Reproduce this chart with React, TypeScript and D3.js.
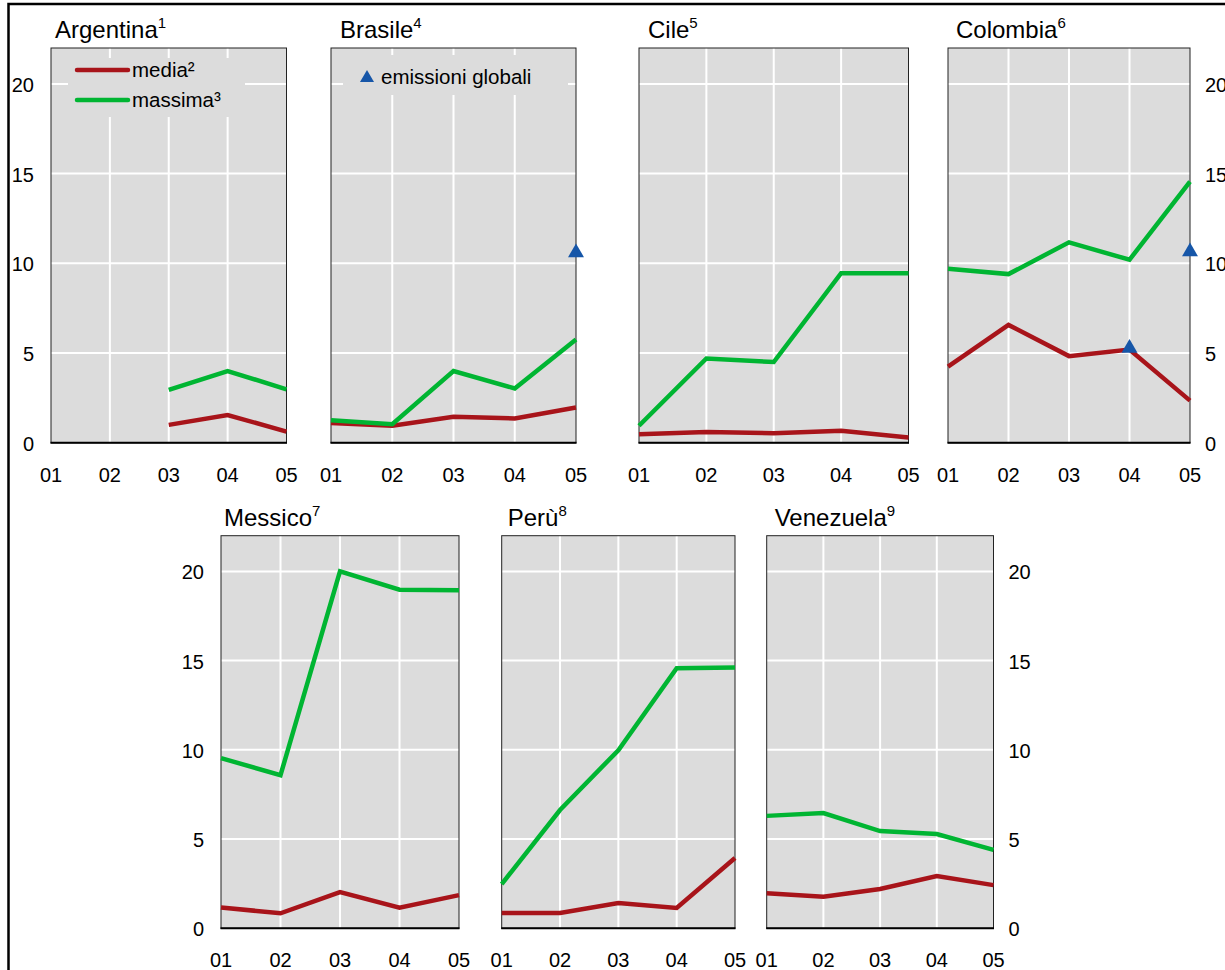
import * as d3 from "d3";

// data (per cent)
const years = ["01", "02", "03", "04", "05"];
const countries = ["Argentina", "Brasile", "Cile", "Colombia", "Messico", "Perù", "Venezuela"];
const notes = ["1", "4", "5", "6", "7", "8", "9"];
const media = [
  [null, null, 1.0, 1.55, 0.62],
  [1.1, 0.95, 1.45, 1.36, 1.97],
  [0.47, 0.6, 0.53, 0.67, 0.3],
  [4.25, 6.57, 4.83, 5.2, 2.35],
  [1.17, 0.84, 2.03, 1.15, 1.86],
  [0.86, 0.86, 1.42, 1.14, 3.94],
  [1.96, 1.77, 2.2, 2.93, 2.42],
];
const massima = [
  [null, null, 2.95, 4.0, 2.98],
  [1.26, 1.04, 4.0, 3.03, 5.76],
  [0.95, 4.7, 4.5, 9.45, 9.45],
  [9.7, 9.4, 11.17, 10.2, 14.55],
  [9.54, 8.58, 20.0, 18.97, 18.95],
  [2.48, 6.63, 9.98, 14.57, 14.62],
  [6.3, 6.46, 5.45, 5.28, 4.39],
];
const globali = [
  [null, null, null, null, null],
  [null, null, null, null, 10.6],
  [null, null, null, null, null],
  [null, null, null, 5.27, 10.65],
  [null, null, null, null, null],
  [null, null, null, null, null],
  [null, null, null, null, null],
];
const yTicks = [0, 5, 10, 15, 20];

// panel layout
const rows = [
  { top: 48, bottom: 442.8 },
  { top: 535.7, bottom: 928.3 },
];
const panels = [
  { x0: 51, x1: 286.5, row: 0, tdx: 4, axis: "left" },
  { x0: 331, x1: 576, row: 0, tdx: 9, axis: null },
  { x0: 639, x1: 908.5, row: 0, tdx: 9, axis: null },
  { x0: 948, x1: 1190, row: 0, tdx: 8, axis: "right" },
  { x0: 221, x1: 459, row: 1, tdx: 3, axis: "left" },
  { x0: 501.7, x1: 735, row: 1, tdx: 6, axis: null },
  { x0: 766.7, x1: 993.5, row: 1, tdx: 8, axis: "right" },
];

const FONT = "'Liberation Sans', Arial, sans-serif";
const BG = "#dcdcdc";
const GREEN = "#00b532";
const RED = "#a8141a";
const BLUE = "#1656a8";

function Panel({ i }: { i: number }) {
  const p = panels[i];
  const r = rows[p.row];
  const x = d3.scalePoint<string>().domain(years).range([p.x0, p.x1]);
  const y = d3.scaleLinear().domain([0, 22]).range([r.bottom, r.top]);
  const line = d3
    .line<number | null>()
    .defined((d) => d != null)
    .x((_, j) => x(years[j])!)
    .y((d) => y(d as number));
  const tri = d3.symbol(d3.symbolTriangle, 110)()!;

  return (
    <g>
      <rect x={p.x0} y={r.top} width={p.x1 - p.x0} height={r.bottom - r.top} fill={BG} />
      {yTicks.slice(1).map((t) => (
        <line key={"h" + t} x1={p.x0} x2={p.x1} y1={y(t)} y2={y(t)} stroke="#fff" strokeWidth={2} />
      ))}
      {years.slice(1, -1).map((yr) => (
        <line key={"v" + yr} x1={x(yr)} x2={x(yr)} y1={r.top} y2={r.bottom} stroke="#fff" strokeWidth={2} />
      ))}
      {i === 0 && (
        <g>
          <rect x={68} y={58} width={177} height={59} fill={BG} />
          <line x1={77} x2={128} y1={70} y2={70} stroke={RED} strokeWidth={4.5} strokeLinecap="round" />
          <line x1={77} x2={128} y1={100} y2={100} stroke={GREEN} strokeWidth={4.5} strokeLinecap="round" />
          <text x={132} y={77} fontSize={20.5}>media²</text>
          <text x={132} y={107} fontSize={20.5}>massima³</text>
        </g>
      )}
      {i === 1 && (
        <g>
          <rect x={343} y={55} width={225} height={40} fill={BG} />
          <path d={d3.symbol(d3.symbolTriangle, 85)()!} transform="translate(367,78)" fill={BLUE} />
          <text x={381} y={84} fontSize={20.5}>emissioni globali</text>
        </g>
      )}
      <rect x={p.x0} y={r.top} width={p.x1 - p.x0} height={r.bottom - r.top} fill="none" stroke="#222" strokeWidth={1} />
      <line x1={p.x0 - 0.5} x2={p.x1 + 0.5} y1={r.bottom} y2={r.bottom} stroke="#000" strokeWidth={2} />
      <path d={line(media[i]) || ""} fill="none" stroke={RED} strokeWidth={4.5} />
      <path d={line(massima[i]) || ""} fill="none" stroke={GREEN} strokeWidth={4.5} />
      {globali[i].map((v, j) =>
        v == null ? null : (
          <path key={"g" + j} d={tri} transform={`translate(${x(years[j])},${y(v)})`} fill={BLUE} />
        )
      )}
      <text x={p.x0 + p.tdx} y={r.top - 10} fontSize={24}>
        {countries[i]}
        <tspan fontSize={15} dy={-10}>{notes[i]}</tspan>
      </text>
      {years.map((yr) => (
        <text key={"x" + yr} x={x(yr)} y={r.bottom + 39} fontSize={20} textAnchor="middle">
          {yr}
        </text>
      ))}
      {p.axis &&
        yTicks.map((t) => (
          <text
            key={"y" + t}
            x={p.axis === "left" ? p.x0 - 17 : p.x1 + 15}
            y={y(t) + 8}
            fontSize={20}
            textAnchor={p.axis === "left" ? "end" : "start"}
          >
            {t}
          </text>
        ))}
    </g>
  );
}

export default function App() {
  return (
    <div style={{ position: "absolute", left: 0, top: 0 }}>
      <svg width={1225} height={970} style={{ display: "block" }} fontFamily={FONT}>
        <rect width={1225} height={970} fill="#fff" />
        <rect x={8.5} y={4} width={1400} height={1400} fill="none" stroke="#000" strokeWidth={2.5} />
        {panels.map((_, i) => (
          <Panel key={i} i={i} />
        ))}
      </svg>
    </div>
  );
}
